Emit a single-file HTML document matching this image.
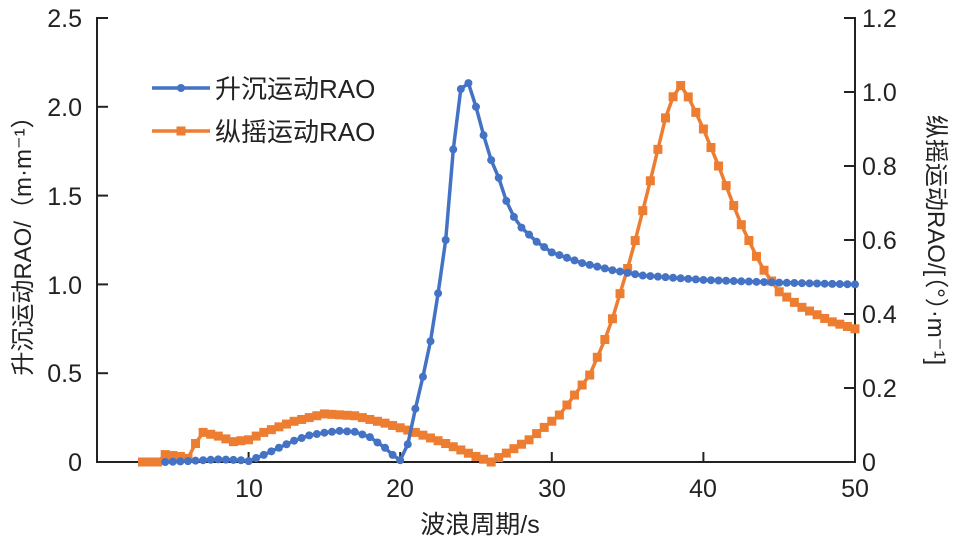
<!DOCTYPE html>
<html><head><meta charset="utf-8"><style>
html,body{margin:0;padding:0;background:#fff}
svg{display:block}
text{font-family:"Liberation Sans","Noto Sans CJK SC",sans-serif;fill:#222}
</style></head><body>
<svg id="s" width="960" height="544" xmlns="http://www.w3.org/2000/svg">
<g stroke="#222" stroke-width="2" fill="none">
<path d="M108,18 H97 V462 H855 V18 H844"/>
</g>
<g id="ticks" stroke="#222" stroke-width="2"></g>
<g font-size="25">
<text x="82" y="471" text-anchor="end">0</text>
<text x="82" y="382" text-anchor="end">0.5</text>
<text x="82" y="294" text-anchor="end">1.0</text>
<text x="82" y="205" text-anchor="end">1.5</text>
<text x="82" y="116" text-anchor="end">2.0</text>
<text x="82" y="27" text-anchor="end">2.5</text>
<text x="862" y="471">0</text>
<text x="862" y="397">0.2</text>
<text x="862" y="323">0.4</text>
<text x="862" y="249">0.6</text>
<text x="862" y="175">0.8</text>
<text x="862" y="101">1.0</text>
<text x="862" y="27">1.2</text>
<text x="249" y="497" text-anchor="middle">10</text>
<text x="400" y="497" text-anchor="middle">20</text>
<text x="552" y="497" text-anchor="middle">30</text>
<text x="703" y="497" text-anchor="middle">40</text>
<text x="855" y="497" text-anchor="middle">50</text>
<text x="480" y="533" text-anchor="middle">波浪周期/s</text>
<text transform="translate(31,240) rotate(-90)" text-anchor="middle" font-size="24">升沉运动RAO/（m·m⁻¹）</text>
<text transform="translate(928,240) rotate(90)" text-anchor="middle" font-size="24">纵摇运动RAO/[（°）·m⁻¹]</text>
<text x="215" y="98" font-size="26">升沉运动RAO</text>
<text x="215" y="141" font-size="26">纵摇运动RAO</text>
</g>
<line x1="152" y1="88" x2="210" y2="88" stroke="#4472C4" stroke-width="3.5"/>
<circle cx="181" cy="88" r="4" fill="#4472C4"/>
<line x1="152" y1="131" x2="210" y2="131" stroke="#ED7D31" stroke-width="3.5"/>
<rect x="176.5" y="126.5" width="9" height="9" fill="#ED7D31"/>
<g id="org"></g><g id="blu"></g>
</svg>
<script>
var NS="http://www.w3.org/2000/svg";
function X(v){return 97+15.16*v;}
function interp(p,v){for(var i=0;i<p.length-1;i++){if(v>=p[i][0]&&v<=p[i+1][0]){var t=(v-p[i][0])/(p[i+1][0]-p[i][0]);return p[i][1]+t*(p[i+1][1]-p[i][1]);}}return p[p.length-1][1];}
var t=document.getElementById("ticks");
[10,20,30,40].forEach(function(v){var l=document.createElementNS(NS,"line");l.setAttribute("x1",X(v));l.setAttribute("x2",X(v));l.setAttribute("y1",462);l.setAttribute("y2",452);t.appendChild(l);});
[0.5,1,1.5,2].forEach(function(v){var y=462-177.6*v;var l=document.createElementNS(NS,"line");l.setAttribute("x1",97);l.setAttribute("x2",108);l.setAttribute("y1",y);l.setAttribute("y2",y);t.appendChild(l);});
[0.2,0.4,0.6,0.8,1.0].forEach(function(v){var y=462-370*v;var l=document.createElementNS(NS,"line");l.setAttribute("x1",844);l.setAttribute("x2",855);l.setAttribute("y1",y);l.setAttribute("y2",y);t.appendChild(l);});
var B=[[4.5,0],[6,0.005],[8,0.015],[9.5,0.01],[10,0.005],[11,0.04],[12,0.08],[13,0.12],[14,0.15],[15,0.165],[16,0.175],[17,0.17],[18,0.14],[19,0.08],[19.5,0.04],[20,0.01],[20.5,0.1],[21,0.3],[21.5,0.48],[22,0.68],[22.5,0.95],[23,1.25],[23.5,1.76],[24,2.1],[24.4,2.16],[25,2.0],[25.5,1.84],[26,1.7],[26.5,1.6],[27,1.47],[27.5,1.38],[28,1.32],[29,1.24],[30,1.18],[32,1.12],[34,1.08],[36,1.05],[40,1.025],[45,1.01],[50,1.0]];
var O=[[2.8,0],[4.2,0],[4.5,0.02],[5.5,0.015],[6,0.01],[6.5,0.05],[7,0.08],[8,0.07],[9,0.055],[10,0.06],[11,0.08],[13,0.11],[15,0.13],[17,0.125],[19,0.105],[21,0.08],[23,0.05],[25,0.015],[26,0],[28.5,0.06],[30.5,0.127],[32.5,0.235],[33.8,0.36],[35.2,0.55],[36.5,0.76],[37.5,0.93],[38.2,1.01],[38.6,1.02],[39.8,0.92],[41.1,0.79],[42.4,0.65],[43.8,0.53],[45,0.46],[46.4,0.42],[48.4,0.38],[50,0.36]];
function draw(p,k,col,g,sq,start){var gg=document.getElementById(g);var pts=[];for(var v=start;v<=50.001;v+=0.5){pts.push([X(v),462-k*interp(p,v)]);}
var pl=document.createElementNS(NS,"polyline");pl.setAttribute("points",pts.map(function(a){return a[0].toFixed(1)+","+a[1].toFixed(1)}).join(" "));pl.setAttribute("fill","none");pl.setAttribute("stroke",col);pl.setAttribute("stroke-width","3.5");gg.appendChild(pl);
pts.forEach(function(a){var m;if(sq){m=document.createElementNS(NS,"rect");m.setAttribute("x",a[0]-4.5);m.setAttribute("y",a[1]-4.5);m.setAttribute("width",9);m.setAttribute("height",9);}else{m=document.createElementNS(NS,"circle");m.setAttribute("cx",a[0]);m.setAttribute("cy",a[1]);m.setAttribute("r",4);}m.setAttribute("fill",col);gg.appendChild(m);});}
draw(O,370,"#ED7D31","org",true,3);
draw(B,177.6,"#4472C4","blu",false,4.5);
</script>
</body></html>
